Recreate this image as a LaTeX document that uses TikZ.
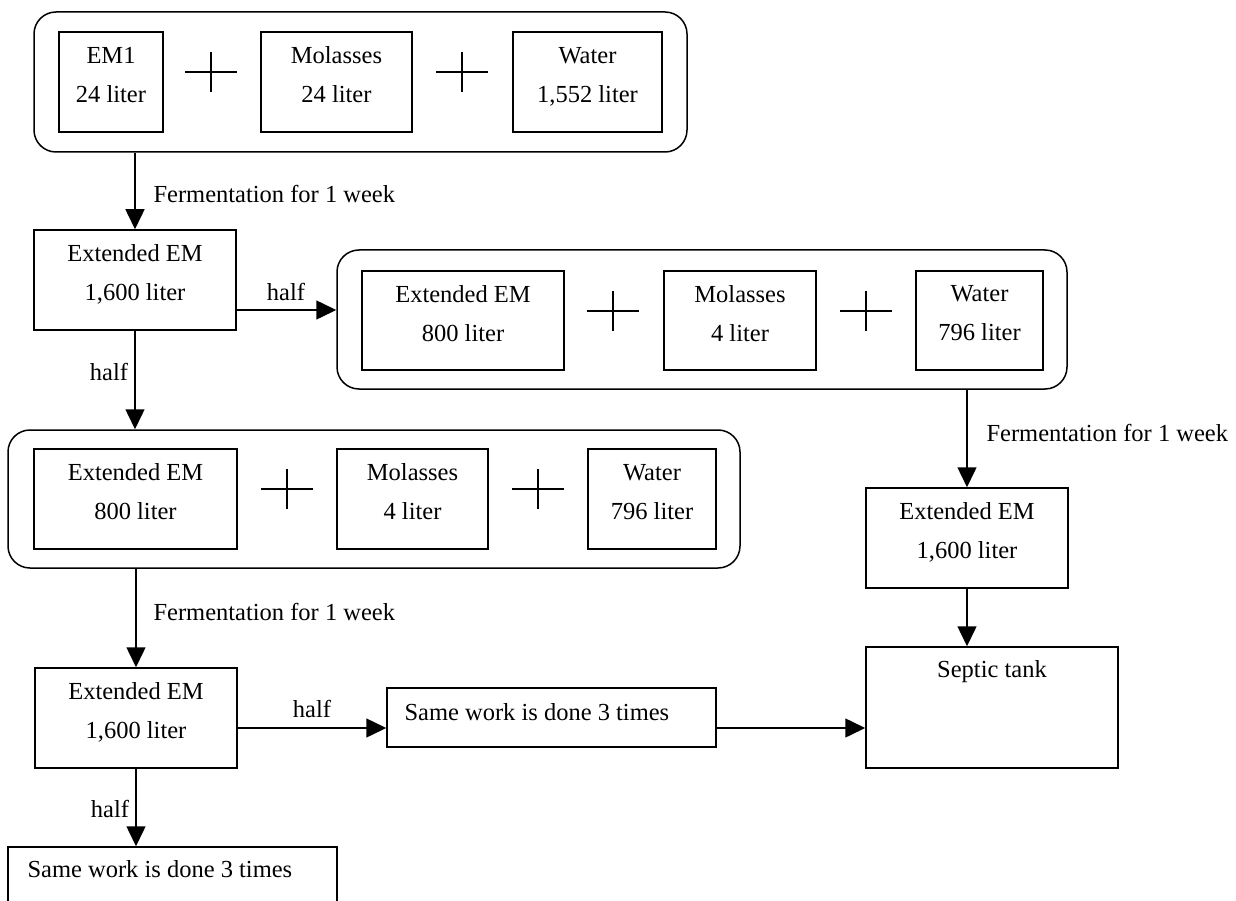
\documentclass[tikz,border=0pt]{standalone}
\usepackage{fontspec}
\setmainfont{Liberation Serif}
\usetikzlibrary{arrows.meta}

% plus sign between two boxes
\newcommand\plussign[1]{\draw[plus] (#1) +(-26,0) -- +(26,0) +(0,-20) -- +(0,20);}

\begin{document}
\begin{tikzpicture}[x=1pt,y=1pt,yscale=-1,xscale=1,
  font=\fontsize{24.5}{39}\selectfont,
  box/.style={draw,line width=1.5pt,inner sep=0pt,align=center,text depth=15pt},
  group/.style={draw,line width=1.5pt,rounded corners=22pt,inner sep=0pt},
  arr/.style={line width=1.5pt,-{Triangle[length=20pt,width=19pt]}},
  plus/.style={line width=1.3pt}]
\clip (0,0) rectangle (1236,901);

%Shape: first mixture
\node (mixA) [group,minimum width=653,minimum height=140] at (360.5,82) {};
\node (emA) [box,minimum width=104,minimum height=100] at (111,82) {EM1\\24 liter};
\node (molA) [box,minimum width=151,minimum height=100] at (336.5,82) {Molasses\\24 liter};
\node (watA) [box,minimum width=149,minimum height=100] at (587.5,82) {Water\\1,552 liter};
\plussign{211,72}
\plussign{462,72}

%Shape: extended EM
\node (extA) [box,minimum width=202,minimum height=100] at (135,280) {Extended EM\\1,600 liter};

%Shape: right mixture
\node (mixB) [group,minimum width=730,minimum height=139] at (702,319.5) {};
\node (emB) [box,minimum width=202,minimum height=99] at (463,320.5) {Extended EM\\800 liter};
\node (molB) [box,minimum width=152,minimum height=99] at (740,320.5) {Molasses\\4 liter};
\node (watB) [box,minimum width=127,minimum height=99] at (979.5,320.5) {Water\\796 liter};
\plussign{613,311}
\plussign{866,311}

%Shape: lower mixture
\node (mixC) [group,minimum width=732,minimum height=138] at (374,499) {};
\node (emC) [box,minimum width=203,minimum height=100] at (135.5,499) {Extended EM\\800 liter};
\node (molC) [box,minimum width=151,minimum height=100] at (412.5,499) {Molasses\\4 liter};
\node (watC) [box,minimum width=128,minimum height=100] at (652,499) {Water\\796 liter};
\plussign{287,489}
\plussign{538,489}

%Shape: extended EM, right and lower
\node (extB) [box,minimum width=202,minimum height=100] at (967,538) {Extended EM\\1,600 liter};
\node (extC) [box,minimum width=202,minimum height=100] at (136,718) {Extended EM\\1,600 liter};

%Shape: septic tank and repeats
\node (tank) [box,minimum width=252,minimum height=121] at (992,707.5) {};
\node (sameA) [box,minimum width=329,minimum height=59] at (551.5,717.5) {};
\node (sameB) [box,minimum width=329,minimum height=59] at (172.5,876.5) {};

\coordinate (halfA) at (0,310);
\coordinate (halfB) at (0,728);

%Straight Lines
\draw[arr] (mixA.south -| extA.north) -- (extA.north);
\draw[arr] (extA.east |- halfA) -- (mixB.west |- halfA);
\draw[arr] (extA.south) -- (extA.south |- mixC.north);
\draw[arr] (mixC.south -| extC.north) -- (extC.north);
\draw[arr] (extC.east |- halfB) -- (sameA.west |- halfB);
\draw[arr] (sameA.east |- halfB) -- (tank.west |- halfB);
\draw[arr] (extC.south) -- (extC.south |- sameB.north);
\draw[arr] (mixB.south -| extB.north) -- (extB.north);
\draw[arr] (extB.south) -- (extB.south |- tank.north);

% Text Node
\node (fermA) [anchor=west] at (150,194) {Fermentation for 1 week};
\node (fermB) [anchor=west] at (150,612) {Fermentation for 1 week};
\node (fermC) [anchor=west] at (983,433) {Fermentation for 1 week};
\node (halfR) at (286,292) {half};
\node (halfD) at (109,372) {half};
\node (halfS) at (312,709) {half};
\node (halfE) at (110,809) {half};
\node (tankTxt) at (992,672) {Septic tank};
\node (sameTxtA) [anchor=west] at (401,712) {Same work is done 3 times};
\node (sameTxtB) [anchor=west] at (24,869) {Same work is done 3 times};

\end{tikzpicture}
\end{document}
